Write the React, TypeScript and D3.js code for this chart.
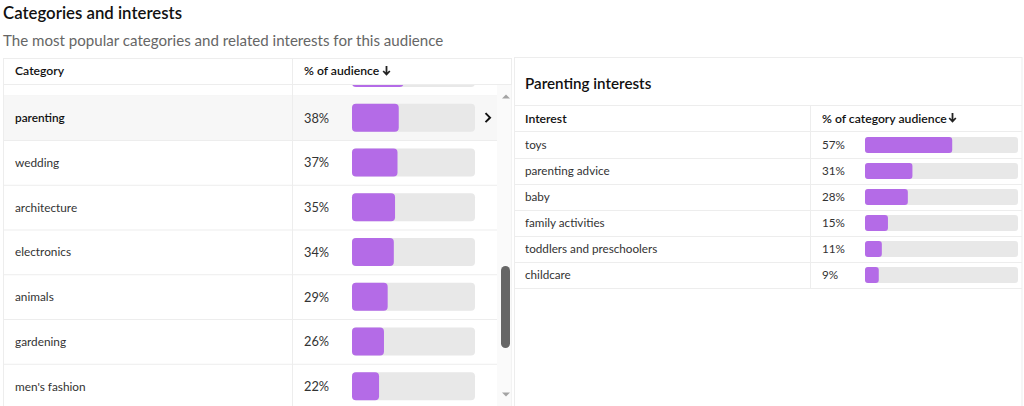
import React from "react";
import * as d3 from "d3";

const categories = ["food and drinks", "parenting", "wedding", "architecture", "electronics", "animals", "gardening", "men's fashion"];
const categoryValues = [42, 38, 37, 35, 34, 29, 26, 22];
const selectedCategory = "parenting";

const interests = ["toys", "parenting advice", "baby", "family activities", "toddlers and preschoolers", "childcare"];
const interestValues = [57, 31, 28, 15, 11, 9];

const FONT = "Lato, 'Noto Sans', sans-serif";
const PURPLE = "#b46be7";
const TRACK = "#e8e8e8";
const LINE = "#ededed";

export default function App() {
  const W = 1024, H = 406;
  const clipTop = 84;

  const leftY = d3.scaleBand<string>().domain(categories).range([50.5, 50.5 + 44.75 * categories.length]).padding(0);
  const leftX = d3.scaleLinear().domain([0, 100]).range([0, 123]);
  const leftBarX = 352;
  const leftBarH = 28;

  const rightY = d3.scaleBand<string>().domain(interests).range([132, 132 + 26 * interests.length]).padding(0);
  const rightX = d3.scaleLinear().domain([0, 100]).range([0, 153]);
  const rightBarX = 865;
  const rightBarH = 16;

  return (
    <svg width={W} height={H} style={{ position: "absolute", left: 0, top: 0, background: "#fff" }} fontFamily={FONT}>
      <defs>
        <clipPath id="leftBody">
          <rect x={3} y={clipTop} width={494} height={H - clipTop} />
        </clipPath>
      </defs>

      <text x={3} y={18.5} fontSize={16.8} fontWeight={600} fill="#111">Categories and interests</text>
      <text x={3} y={46} fontSize={15.1} fill="#666">The most popular categories and related interests for this audience</text>

      <rect x={3.5} y={58.5} width={508} height={H} fill="none" stroke={LINE} />
      <rect x={497} y={85} width={14.5} height={H - 85} fill="#fafafa" />

      <g clipPath="url(#leftBody)">
        {categories.map((c, i) => {
          const y0 = leftY(c)!;
          const bw = leftY.bandwidth();
          const cy = y0 + bw / 2;
          const sel = c === selectedCategory;
          const labelVisible = cy > clipTop;
          return (
            <g key={c}>
              {sel && <rect x={4} y={y0} width={493} height={bw} fill="#f7f7f7" />}
              <line x1={4} x2={497} y1={y0 + bw + 0.5} y2={y0 + bw + 0.5} stroke={LINE} />
              {labelVisible && (
                <text x={15} y={cy + 4.5} fontSize={11.8} fontWeight={sel ? 600 : 400} fill={sel ? "#111" : "#333"}>{c}</text>
              )}
              {labelVisible && (
                <text x={304} y={cy + 5} fontSize={12.8} fill="#333">{categoryValues[i]}%</text>
              )}
              <rect x={leftBarX} y={cy - leftBarH / 2} width={leftX(100)} height={leftBarH} rx={4} fill={TRACK} />
              <rect x={leftBarX} y={cy - leftBarH / 2} width={leftX(categoryValues[i])} height={leftBarH} rx={4} fill={PURPLE} />
              {sel && (
                <path d={`M${485.5},${cy - 4.5} L${490},${cy} L${485.5},${cy + 4.5}`} fill="none" stroke="#111" strokeWidth={2} />
              )}
            </g>
          );
        })}
        <line x1={292.5} x2={292.5} y1={clipTop} y2={H} stroke={LINE} />
      </g>

      <rect x={4} y={59} width={507} height={25} fill="#fff" />
      <line x1={4} x2={511} y1={84.5} y2={84.5} stroke={LINE} />
      <line x1={292.5} x2={292.5} y1={59} y2={84} stroke={LINE} />
      <text x={15} y={75} fontSize={12.2} fontWeight={600} fill="#111">Category</text>
      <text x={304} y={75} fontSize={12.2} fontWeight={600} fill="#111">% of audience</text>
      <path d="M386.5,66 L386.5,74 M383.2,71 L386.5,74.5 L389.8,71" fill="none" stroke="#222" strokeWidth={1.8} />

      <path d="M502,98.5 L510,98.5 L506,94.5 Z" fill="#a3a3a3" />
      <rect x={501} y={266} width={9} height={82} rx={4.5} fill="#666" />
      <path d="M502,392.5 L510,392.5 L506,396.5 Z" fill="#a3a3a3" />

      <rect x={514.5} y={57.5} width={507.5} height={H} fill="none" stroke={LINE} />
      <text x={525} y={88.5} fontSize={15.2} fontWeight={600} fill="#111">Parenting interests</text>
      <line x1={515} x2={1022} y1={105.5} y2={105.5} stroke={LINE} />
      <text x={525} y={123} fontSize={12.2} fontWeight={600} fill="#111">Interest</text>
      <text x={822} y={123} fontSize={12.2} fontWeight={600} fill="#111">% of category audience</text>
      <path d="M952.5,113 L952.5,121 M949.2,118 L952.5,121.5 L955.8,118" fill="none" stroke="#222" strokeWidth={1.8} />
      <line x1={515} x2={1022} y1={131.5} y2={131.5} stroke={LINE} />
      <line x1={810.5} x2={810.5} y1={106} y2={rightY.range()[1]} stroke={LINE} />

      {interests.map((c, i) => {
        const y0 = rightY(c)!;
        const bw = rightY.bandwidth();
        const cy = y0 + bw / 2;
        return (
          <g key={c}>
            <line x1={515} x2={1022} y1={y0 + bw + 0.5} y2={y0 + bw + 0.5} stroke={LINE} />
            <text x={525} y={cy + 4.3} fontSize={11.7} fill="#333">{c}</text>
            <text x={822} y={cy + 4.3} fontSize={11.7} fill="#333">{interestValues[i]}%</text>
            <rect x={rightBarX} y={cy - rightBarH / 2} width={rightX(100)} height={rightBarH} rx={3} fill={TRACK} />
            <rect x={rightBarX} y={cy - rightBarH / 2} width={rightX(interestValues[i])} height={rightBarH} rx={3} fill={PURPLE} />
          </g>
        );
      })}
    </svg>
  );
}
